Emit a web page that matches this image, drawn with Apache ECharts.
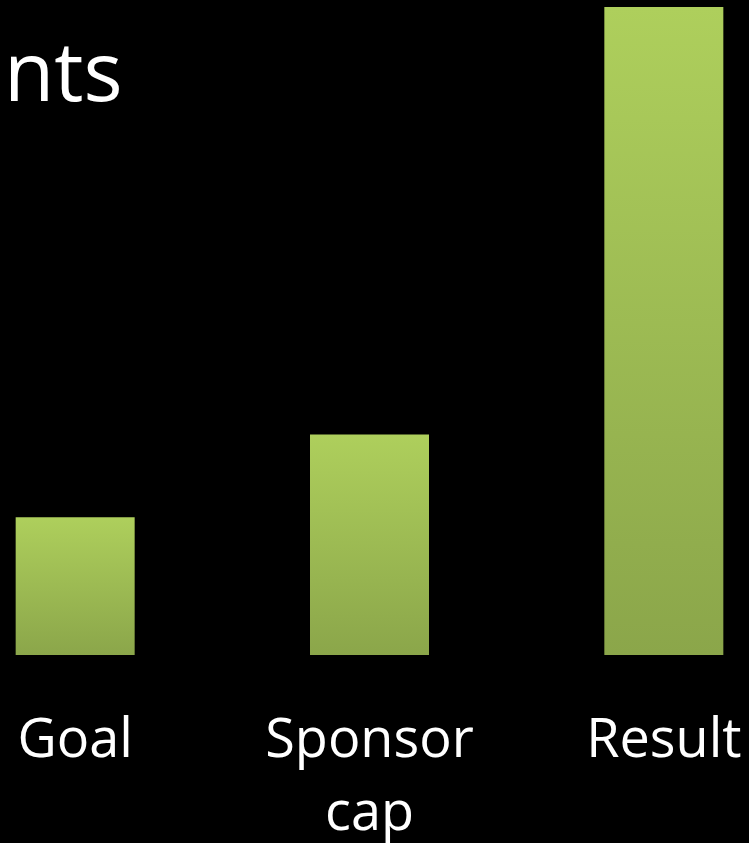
<!DOCTYPE html>
<html>
<head>
<meta charset="utf-8">
<script src="https://cdn.jsdelivr.net/npm/echarts@6/dist/echarts.min.js"></script>
<style>
html,body{margin:0;padding:0;background:#000;}
#chart{width:749px;height:843px;}
</style>
</head>
<body>
<div id="chart"></div>
<script>
const titleText = 'nts';
const categories = ['Goal', 'Sponsor\ncap', 'Result'];
const values = [50, 80, 235];

const chart = echarts.init(document.getElementById('chart'), null, {renderer: 'canvas'});
chart.setOption({
  backgroundColor: '#000000',
  animation: false,
  title: {
    text: titleText,
    left: 4,
    top: 36,
    padding: 0,
    textStyle: {
      color: '#ffffff',
      fontFamily: 'Open Sans',
      fontWeight: 'normal',
      fontSize: 82,
      lineHeight: 84
    }
  },
  grid: {
    left: -72,
    right: -62,
    top: 7,
    bottom: 188,
    containLabel: false,
    outerBoundsMode: 'none'
  },
  xAxis: {
    type: 'category',
    data: categories,
    axisLine: {show: false},
    axisTick: {show: false},
    splitLine: {show: false},
    axisLabel: {
      color: '#ffffff',
      fontFamily: 'Open Sans',
      fontSize: 54,
      lineHeight: 73,
      margin: 50,
      interval: 0
    }
  },
  yAxis: {
    type: 'value',
    min: 0,
    max: 235,
    show: false,
    splitLine: {show: false}
  },
  series: [{
    type: 'bar',
    data: values,
    barWidth: 119,
    itemStyle: {
      color: new echarts.graphic.LinearGradient(0, 0, 0, 1, [
        {offset: 0, color: '#AECF5C'},
        {offset: 1, color: '#8BA64A'}
      ])
    }
  }]
});
</script>
</body>
</html>
